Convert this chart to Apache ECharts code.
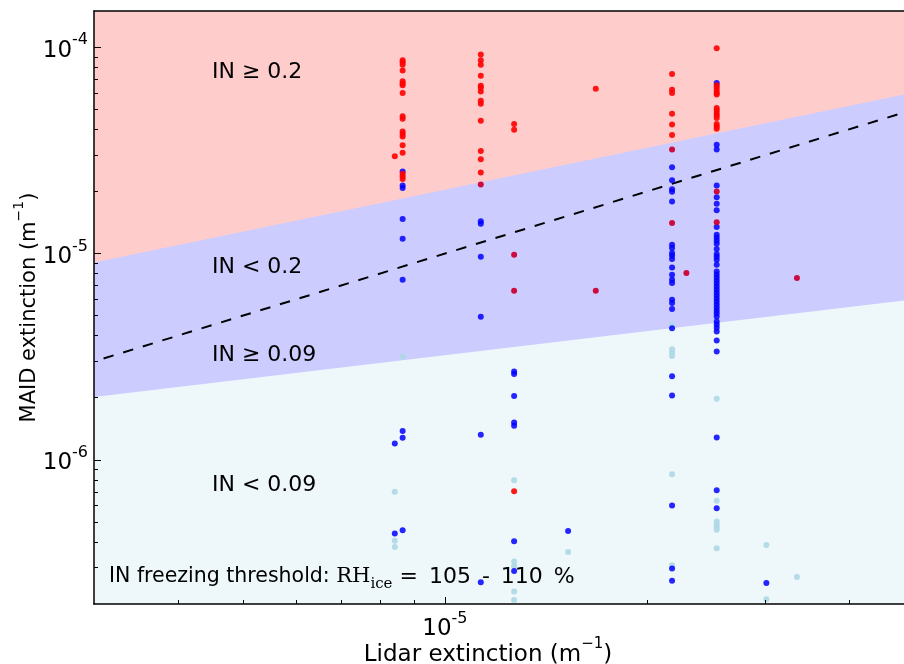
<!DOCTYPE html>
<html><head><meta charset="utf-8">
<script src="https://cdn.jsdelivr.net/npm/echarts@6/dist/echarts.min.js"></script>
<style>html,body{margin:0;padding:0;background:#fff}#c{width:904px;height:664px}</style>
</head><body><div id="c"></div>
<script>
// ---- axis ranges & ticks ----
const X_MIN = 3e-6, X_MAX = 5e-5, Y_MIN = 2e-7, Y_MAX = 1.5e-4;
const xMajorTicks = [1e-5];
const xMinorTicks = [4e-6, 5e-6, 6e-6, 7e-6, 8e-6, 9e-6, 2e-5, 3e-5, 4e-5];
const yMajorTicks = [1e-6, 1e-5, 1e-4];
const yMinorTicks = [3e-7, 4e-7, 5e-7, 6e-7, 7e-7, 8e-7, 9e-7,
  2e-6, 3e-6, 4e-6, 5e-6, 6e-6, 7e-6, 8e-6, 9e-6,
  2e-5, 3e-5, 4e-5, 5e-5, 6e-5, 7e-5, 8e-5, 9e-5];

// ---- region boundaries (straight lines in log-log space) ----
const upperBoundary = [[3e-6, 9.04e-6], [5e-5, 6.04e-5]];
const lowerBoundary = [[3e-6, 2.016e-6], [5e-5, 6.01e-6]];
const oneToOne = [[3e-6, 3e-6], [5e-5, 5e-5]];

// ---- data points [lidar, MAID] ----
const redPts = [
  [8.65e-6, 8.65e-5], [8.65e-6, 8.46e-5], [8.65e-6, 8.24e-5], [8.65e-6, 7.71e-5], [8.65e-6, 6.84e-5],
  [8.65e-6, 6.67e-5], [8.65e-6, 6.54e-5], [8.65e-6, 6.01e-5], [8.65e-6, 4.63e-5], [8.65e-6, 4.51e-5],
  [8.65e-6, 3.91e-5], [8.65e-6, 3.80e-5], [8.65e-6, 3.70e-5], [8.65e-6, 3.35e-5], [8.65e-6, 3.08e-5],
  [8.65e-6, 2.44e-5], [8.65e-6, 2.37e-5], [8.65e-6, 2.30e-5], [8.42e-6, 2.96e-5],
  [1.131e-5, 9.22e-5], [1.131e-5, 8.65e-5], [1.131e-5, 8.24e-5], [1.131e-5, 7.29e-5], [1.131e-5, 6.52e-5],
  [1.131e-5, 6.36e-5], [1.131e-5, 6.10e-5], [1.131e-5, 5.51e-5], [1.131e-5, 5.33e-5], [1.131e-5, 4.41e-5],
  [1.131e-5, 3.14e-5], [1.131e-5, 2.87e-5], [1.131e-5, 2.47e-5],
  [1.268e-5, 4.25e-5], [1.268e-5, 3.98e-5], [1.268e-5, 7.05e-7],
  [1.678e-5, 6.30e-5],
  [2.18e-5, 7.43e-5], [2.18e-5, 6.23e-5], [2.18e-5, 6.01e-5], [2.18e-5, 4.77e-5], [2.18e-5, 4.22e-5], [2.18e-5, 3.76e-5],
  [2.541e-5, 9.89e-5], [2.541e-5, 6.54e-5], [2.541e-5, 6.36e-5], [2.541e-5, 6.18e-5], [2.541e-5, 6.01e-5],
  [2.541e-5, 5.90e-5], [2.541e-5, 5.08e-5], [2.541e-5, 4.95e-5], [2.541e-5, 4.80e-5], [2.541e-5, 4.68e-5],
  [2.541e-5, 4.54e-5], [2.541e-5, 4.25e-5], [2.541e-5, 4.14e-5], [2.541e-5, 4.03e-5]
];
const mixedPts = [
  [1.131e-5, 2.16e-5], [1.268e-5, 9.87e-6], [1.268e-5, 6.60e-6], [1.678e-5, 6.60e-6],
  [2.18e-5, 3.20e-5], [2.18e-5, 1.407e-5], [2.29e-5, 8.04e-6],
  [2.541e-5, 2.00e-5], [2.541e-5, 1.417e-5], [3.346e-5, 7.61e-6]
];
const bluePts = [
  [8.65e-6, 2.50e-5], [8.65e-6, 2.14e-5], [8.65e-6, 2.08e-5], [8.65e-6, 1.47e-5], [8.65e-6, 1.18e-5],
  [8.65e-6, 7.47e-6], [8.65e-6, 1.378e-6], [8.65e-6, 1.279e-6], [8.65e-6, 4.56e-7], [8.42e-6, 1.200e-6], [8.42e-6, 4.39e-7],
  [1.131e-5, 1.435e-5], [1.131e-5, 1.396e-5], [1.131e-5, 9.65e-6], [1.131e-5, 4.94e-6], [1.131e-5, 1.322e-6], [1.131e-5, 2.55e-7],
  [1.268e-5, 2.68e-6], [1.268e-5, 2.61e-6], [1.268e-5, 2.04e-6], [1.268e-5, 1.517e-6], [1.268e-5, 1.462e-6],
  [1.268e-5, 4.03e-7], [1.268e-5, 2.89e-7],
  [1.526e-5, 4.52e-7],
  [2.18e-5, 2.62e-5], [2.18e-5, 2.27e-5], [2.18e-5, 2.05e-5], [2.18e-5, 1.995e-5], [2.18e-5, 1.79e-5],
  [2.18e-5, 1.104e-5], [2.18e-5, 1.064e-5], [2.18e-5, 1.006e-5], [2.18e-5, 9.79e-6], [2.18e-5, 9.41e-6],
  [2.18e-5, 8.57e-6], [2.18e-5, 7.90e-6], [2.18e-5, 7.47e-6], [2.18e-5, 7.20e-6], [2.18e-5, 5.97e-6],
  [2.18e-5, 5.76e-6], [2.18e-5, 5.38e-6], [2.18e-5, 4.35e-6], [2.18e-5, 2.54e-6], [2.18e-5, 2.05e-6],
  [2.18e-5, 6.00e-7], [2.18e-5, 2.97e-7], [2.18e-5, 2.59e-7],
  [2.541e-5, 6.72e-5], [2.541e-5, 3.37e-5], [2.541e-5, 3.20e-5], [2.541e-5, 2.14e-5], [2.541e-5, 1.873e-5],
  [2.541e-5, 1.745e-5], [2.541e-5, 1.62e-5], [2.541e-5, 1.346e-5], [2.541e-5, 1.234e-5], [2.541e-5, 1.194e-5],
  [2.541e-5, 1.154e-5], [2.541e-5, 1.116e-5], [2.541e-5, 1.052e-5], [2.541e-5, 9.95e-6], [2.541e-5, 9.65e-6],
  [2.541e-5, 9.34e-6], [2.541e-5, 8.83e-6], [2.541e-5, 8.19e-6], [2.541e-5, 7.92e-6], [2.541e-5, 7.66e-6],
  [2.541e-5, 7.41e-6], [2.541e-5, 7.17e-6], [2.541e-5, 6.93e-6], [2.541e-5, 6.70e-6], [2.541e-5, 6.48e-6],
  [2.541e-5, 6.27e-6], [2.541e-5, 6.06e-6], [2.541e-5, 5.86e-6], [2.541e-5, 5.67e-6], [2.541e-5, 5.48e-6],
  [2.541e-5, 5.30e-6], [2.541e-5, 5.13e-6], [2.541e-5, 4.96e-6], [2.541e-5, 4.69e-6], [2.541e-5, 4.53e-6],
  [2.541e-5, 4.37e-6], [2.541e-5, 4.19e-6], [2.541e-5, 3.79e-6], [2.541e-5, 3.35e-6], [2.541e-5, 1.283e-6],
  [2.541e-5, 7.13e-7], [2.541e-5, 5.83e-7],
  [3.013e-5, 2.53e-7]
];
const lightPts = [
  [8.65e-6, 3.16e-6], [8.42e-6, 7.00e-7], [8.42e-6, 4.05e-7], [8.42e-6, 3.78e-7],
  [1.268e-5, 7.97e-7], [1.268e-5, 3.21e-7], [1.268e-5, 3.06e-7], [1.268e-5, 2.30e-7], [1.268e-5, 2.09e-7],
  [1.526e-5, 3.57e-7],
  [2.18e-5, 4.52e-6], [2.18e-5, 3.44e-6], [2.18e-5, 3.32e-6], [2.18e-5, 3.19e-6], [2.18e-5, 8.52e-7], [2.18e-5, 3.08e-7],
  [2.541e-5, 1.977e-6], [2.541e-5, 6.33e-7], [2.541e-5, 5.02e-7], [2.541e-5, 4.86e-7], [2.541e-5, 4.72e-7],
  [2.541e-5, 4.58e-7], [2.541e-5, 3.73e-7],
  [3.013e-5, 3.86e-7], [3.013e-5, 2.11e-7],
  [3.346e-5, 2.70e-7]
];

const FONT = 'DejaVu Sans';
const chart = echarts.init(document.getElementById('c'), null, {renderer: 'canvas'});

function powLabel(v) {
  const e = Math.round(Math.log10(v));
  return '{b|10}{s|' + e + '}';
}
const labelRich = {
  b: {fontSize: 23, fontFamily: FONT, color: '#000', lineHeight: 30, verticalAlign: 'bottom'},
  s: {fontSize: 16, fontFamily: FONT, color: '#000', lineHeight: 30, verticalAlign: 'top'}
};
const xNameRich = {
  a: {fontSize: 23, fontFamily: FONT, color: '#000', lineHeight: 30, verticalAlign: 'bottom'},
  s: {fontSize: 15, fontFamily: FONT, color: '#000', lineHeight: 30, verticalAlign: 'top'}
};
const yNameRich = {
  a: {fontSize: 21, fontFamily: FONT, color: '#000', lineHeight: 28, verticalAlign: 'bottom'},
  s: {fontSize: 14, fontFamily: FONT, color: '#000', lineHeight: 28, verticalAlign: 'top'}
};

function xAxisBase(extra) {
  return Object.assign({
    type: 'log', logBase: 10, min: X_MIN, max: X_MAX, gridIndex: 0,
    position: 'bottom', splitLine: {show: false}, z: 10
  }, extra);
}
function yAxisBase(extra) {
  return Object.assign({
    type: 'log', logBase: 10, min: Y_MIN, max: Y_MAX, gridIndex: 0,
    position: 'left', splitLine: {show: false}, z: 10
  }, extra);
}

const scatterBase = {type: 'scatter', symbol: 'circle', symbolSize: 6, xAxisIndex: 0, yAxisIndex: 0, z: 5};
const inText = {fontSize: 22, fontFamily: FONT, fill: '#000', verticalAlign: 'middle'};

chart.setOption({
  animation: false,
  backgroundColor: '#ffffff',
  grid: {left: 94, top: 11, width: 820, height: 593, show: true, backgroundColor: '#eef7fa', borderWidth: 0,
         containLabel: false, outerBoundsMode: 'none'},
  xAxis: [
    xAxisBase({
      axisLine: {show: true, lineStyle: {color: '#000', width: 1.5}},
      axisTick: {show: true, inside: true, length: 7, customValues: xMajorTicks, lineStyle: {color: '#000', width: 1}},
      axisLabel: {show: true, customValues: xMajorTicks, formatter: powLabel, rich: labelRich, margin: 7},
      name: '{a|Lidar extinction (m}{s|\u22121}{a|)}',
      nameLocation: 'middle', nameGap: 33, nameMoveOverlap: false,
      nameTextStyle: {rich: xNameRich, padding: [0, 32, 0, 0]}
    }),
    xAxisBase({
      axisLine: {show: false},
      axisTick: {show: true, inside: true, length: 4, customValues: xMinorTicks, lineStyle: {color: '#000', width: 1}},
      axisLabel: {show: false}
    }),
    xAxisBase({
      position: 'top',
      axisLine: {show: true, lineStyle: {color: '#000', width: 1.5}},
      axisTick: {show: false}, axisLabel: {show: false}
    })
  ],
  yAxis: [
    yAxisBase({
      axisLine: {show: true, lineStyle: {color: '#000', width: 1.5}},
      axisTick: {show: true, inside: true, length: 7, customValues: yMajorTicks, lineStyle: {color: '#000', width: 1}},
      axisLabel: {show: true, customValues: yMajorTicks, formatter: powLabel, rich: labelRich, margin: 6},
      name: '{a|MAID extinction (m}{s|\u22121}{a|)}',
      nameLocation: 'middle', nameGap: 54, nameRotate: 90, nameMoveOverlap: false,
      nameTextStyle: {rich: yNameRich}
    }),
    yAxisBase({
      axisLine: {show: false},
      axisTick: {show: true, inside: true, length: 4, customValues: yMinorTicks, lineStyle: {color: '#000', width: 1}},
      axisLabel: {show: false}
    })
  ],
  series: [
    {type: 'line', data: lowerBoundary, symbol: 'none', lineStyle: {width: 0}, silent: true, z: 1,
     areaStyle: {color: '#ccccff', opacity: 1, origin: 'end'}},
    {type: 'line', data: upperBoundary, symbol: 'none', lineStyle: {width: 0}, silent: true, z: 2,
     areaStyle: {color: '#ffcccc', opacity: 1, origin: 'end'}},
    {type: 'line', data: oneToOne, symbol: 'none', silent: true, z: 3,
     lineStyle: {color: '#000', width: 2, type: [10.5, 10], dashOffset: 10.5}},
    Object.assign({}, scatterBase, {data: lightPts, itemStyle: {color: '#add8e6', opacity: 0.9}}),
    Object.assign({}, scatterBase, {data: bluePts, itemStyle: {color: '#0000ff', opacity: 0.85}}),
    Object.assign({}, scatterBase, {data: mixedPts, itemStyle: {color: '#cc0033', opacity: 0.95}}),
    Object.assign({}, scatterBase, {data: redPts, itemStyle: {color: '#ff0000', opacity: 0.9}})
  ],
  graphic: [
    {type: 'text', x: 212, y: 72, z: 20, style: Object.assign({text: 'IN \u2265 0.2'}, inText)},
    {type: 'text', x: 212, y: 267, z: 20, style: Object.assign({text: 'IN < 0.2'}, inText)},
    {type: 'text', x: 212, y: 355, z: 20, style: Object.assign({text: 'IN \u2265 0.09'}, inText)},
    {type: 'text', x: 212, y: 485, z: 20, style: Object.assign({text: 'IN < 0.09'}, inText)},
    {type: 'text', x: 109, y: 577, z: 20, style: {
      text: '{n|IN freezing threshold: }{r|RH}{sub|ice}{m| =\u2002105\u2002-\u2002110\u2002%}',
      verticalAlign: 'middle',
      rich: {
        n: {fontSize: 20.5, fontFamily: FONT, color: '#000', lineHeight: 30, verticalAlign: 'middle'},
        m: {fontSize: 22, fontFamily: FONT, color: '#000', lineHeight: 30, verticalAlign: 'middle'},
        r: {fontSize: 21, fontFamily: 'DejaVu Serif', color: '#000', lineHeight: 30, verticalAlign: 'middle'},
        sub: {fontSize: 15, fontFamily: 'DejaVu Serif', color: '#000', lineHeight: 30, verticalAlign: 'bottom'}
      }
    }}
  ]
});
</script>
</body></html>
